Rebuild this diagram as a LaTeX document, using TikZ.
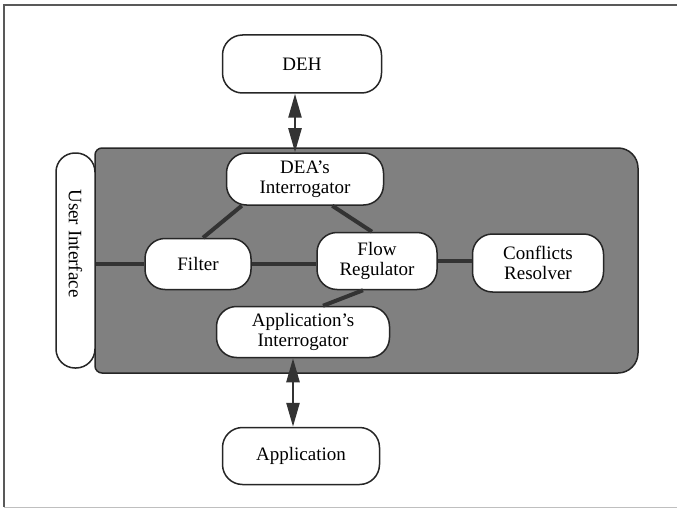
\documentclass[tikz,border=0pt]{standalone}
\usepackage{fontspec}
\setmainfont{Liberation Serif}
\usetikzlibrary{arrows.meta}

\begin{document}
\begin{tikzpicture}[x=1pt,y=-1pt,
  blob/.style={draw=black!85, line width=1.5pt, fill=white, rounded corners=20pt,
    align=center, inner sep=0pt, font=\fontsize{19}{20}\selectfont},
  link/.style={draw=black!80, line width=4pt},
  dbl/.style={draw=black!80, line width=2.5pt,
    {Triangle[length=24pt,width=13pt]}-{Triangle[length=24pt,width=13pt]}}]
  \useasboundingbox (0,0) rectangle (677,508);
  % frame
  \draw[black!65, line width=1.5pt] (677,5) -- (4,5) -- (4,507);
  \draw[black!25, line width=0.8pt] (4,507) -- (677,507);
  % grey panel
  \draw[black!85, line width=1.5pt, fill=black!50] (366,148) [rounded corners=20pt]
    -- (638,148) -- (638,373) -- (366,373) [rounded corners=7pt]
    -- (95,373) -- (95,148) -- cycle;
  % boxes
  \node[blob, minimum width=159pt, minimum height=58pt] (deh) at (302,64) {DEH};
  \node[blob, rotate=-90, minimum width=215pt, minimum height=39pt,
    rounded corners=19pt] (ui) at (75.5,260.5) {User Interface\hspace{34pt}};
  \node[blob, minimum width=157pt, minimum height=52pt] (dea) at (305,179) {DEA's\\Interrogator};
  \node[blob, minimum width=106pt, minimum height=51pt] (filter) at (198,264) {Filter};
  \node[blob, minimum width=120pt, minimum height=57pt] (flow) at (377,261) {Flow\\Regulator};
  \node[blob, minimum width=131pt, minimum height=58pt] (conf) at (538,263) {Conflicts\\Resolver};
  \node[blob, minimum width=173pt, minimum height=51pt] (appint) at (303,332) {Application's\\Interrogator};
  \node[blob, minimum width=157pt, minimum height=57pt] (app) at (301,456) {Application};
  % links
  \draw[link] (ui.north |- filter.west) -- (filter.west);
  \draw[link] (filter.east) -- (filter.east -| flow.west);
  \draw[link] (flow.east) -- (flow.east -| conf.west);
  \draw[link] ([xshift=16pt]dea.south west) -- ([xshift=5pt]filter.north);
  \draw[link] ([xshift=-52pt]dea.south east) -- ([xshift=-5pt]flow.north);
  \draw[link] ([xshift=-14pt]flow.south) -- ([xshift=20pt]appint.north);
  \draw[dbl] ([xshift=-7pt]deh.south) -- ([xshift=-10pt]dea.north);
  \draw[dbl] ([xshift=-10pt]appint.south) -- ([xshift=-8pt]app.north);
\end{tikzpicture}
\end{document}
